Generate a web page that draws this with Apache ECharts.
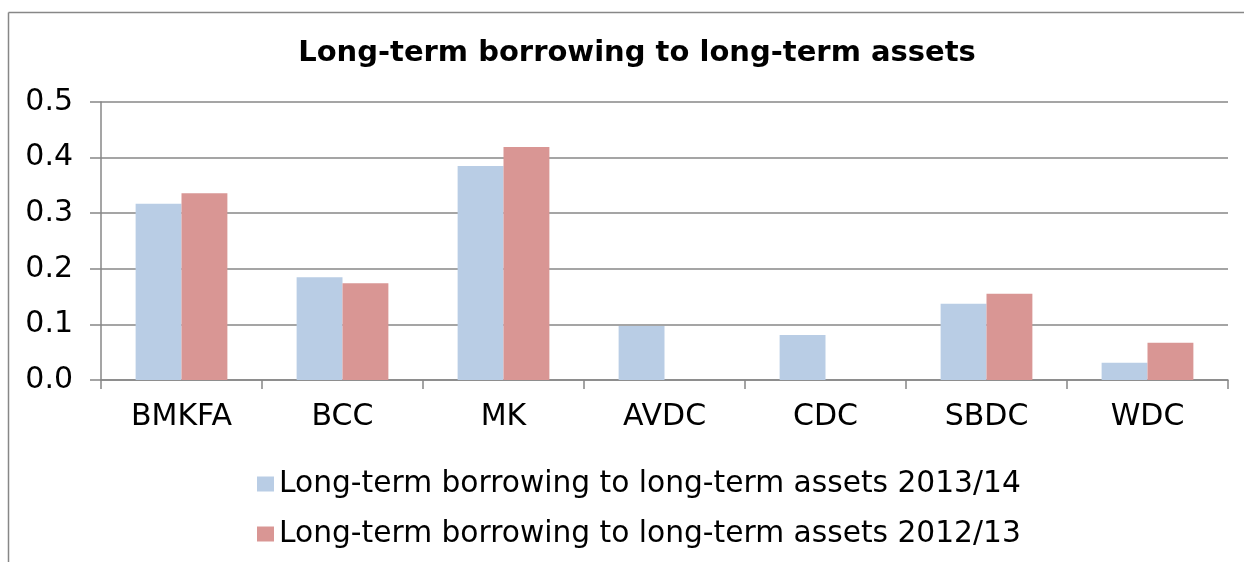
<!DOCTYPE html>
<html>
<head>
<meta charset="utf-8">
<script src="https://cdn.jsdelivr.net/npm/echarts@6/dist/echarts.min.js"></script>
<style>
html,body{margin:0;padding:0;background:#fff;overflow:hidden;}
#c{width:1244px;height:562px;}
</style>
</head>
<body>
<div id="c"></div>
<script>
const titleText = 'Long-term borrowing to long-term assets';
const categories = ['BMKFA', 'BCC', 'MK', 'AVDC', 'CDC', 'SBDC', 'WDC'];
const seriesNames = ['Long-term borrowing to long-term assets 2013/14', 'Long-term borrowing to long-term assets 2012/13'];
const values2013 = [0.317, 0.185, 0.385, 0.097, 0.081, 0.137, 0.031];
const values2012 = [0.336, 0.174, 0.419, null, null, 0.155, 0.067];
const yTicks = { min: 0, max: 0.5, interval: 0.1 };

const FONT = '"DejaVu Sans", Verdana, sans-serif';
const GRAY = '#878787';

const chart = echarts.init(document.getElementById('c'), null, { renderer: 'canvas' });
chart.setOption({
  backgroundColor: '#ffffff',
  animation: false,
  title: {
    text: titleText,
    left: 632, textAlign: 'center',
    top: 34,
    textStyle: { fontFamily: FONT, fontSize: 29, fontWeight: 'bold', color: '#000' }
  },
  graphic: [
    { type: 'line', silent: true, shape: { x1: 8.5, y1: 12.5, x2: 1244, y2: 12.5 },
      style: { stroke: GRAY, lineWidth: 1.5 } },
    { type: 'line', silent: true, shape: { x1: 8.5, y1: 12.5, x2: 8.5, y2: 562 },
      style: { stroke: GRAY, lineWidth: 1.5 } }
  ],
  legend: {
    orient: 'vertical',
    left: 252, top: 463,
    itemWidth: 17, itemHeight: 15, itemGap: 18,
    icon: 'rect',
    textStyle: { fontFamily: FONT, fontSize: 29.7, color: '#000', lineHeight: 32, padding: [0, 0, 0, 0] },
    data: seriesNames
  },
  grid: { left: 101, right: 16, top: 102, bottom: 182, containLabel: false },
  xAxis: {
    type: 'category',
    data: categories,
    axisLine: { show: true, lineStyle: { color: GRAY, width: 1.5 } },
    axisTick: { show: true, length: 9, alignWithLabel: false, lineStyle: { color: GRAY, width: 1.5 } },
    axisLabel: { fontFamily: FONT, fontSize: 30, color: '#000', margin: 22 },
    splitLine: { show: false }
  },
  yAxis: {
    type: 'value',
    min: yTicks.min, max: yTicks.max, interval: yTicks.interval,
    axisLine: { show: true, lineStyle: { color: GRAY, width: 1.5 } },
    axisTick: { show: true, length: 11, lineStyle: { color: GRAY, width: 1.5 } },
    axisLabel: { fontFamily: FONT, fontSize: 30, color: '#000', margin: 28, formatter: v => v.toFixed(1) },
    splitLine: { show: true, lineStyle: { color: GRAY, width: 1.5 } }
  },
  series: [
    { name: seriesNames[0], type: 'bar', data: values2013, barGap: '0%', barCategoryGap: '43%',
      itemStyle: { color: '#B9CDE5' } },
    { name: seriesNames[1], type: 'bar', data: values2012, barGap: '0%', barCategoryGap: '43%',
      itemStyle: { color: '#D99694' } }
  ]
});
</script>
</body>
</html>
